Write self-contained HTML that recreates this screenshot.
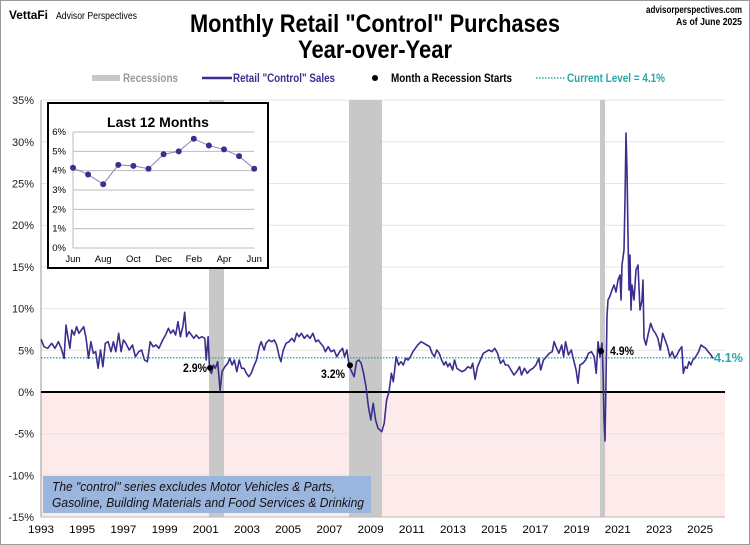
<!DOCTYPE html>
<html><head><meta charset="utf-8"><style>
body{margin:0;background:#fff}
svg{display:block;font-family:"Liberation Sans",sans-serif}
</style></head><body>
<svg id="s" width="750" height="545" viewBox="0 0 750 545" xmlns="http://www.w3.org/2000/svg">
<rect x="0.5" y="0.5" width="749" height="544" fill="#fff" stroke="#999"/>
<text x="9" y="19" font-size="12" font-weight="bold" textLength="39" lengthAdjust="spacingAndGlyphs">VettaFi</text>
<text x="56" y="19" font-size="10" textLength="81" lengthAdjust="spacingAndGlyphs">Advisor Perspectives</text>
<text x="742" y="13" font-size="10" font-weight="bold" text-anchor="end" textLength="96" lengthAdjust="spacingAndGlyphs">advisorperspectives.com</text>
<text x="742" y="25" font-size="10" font-weight="bold" text-anchor="end" textLength="66" lengthAdjust="spacingAndGlyphs">As of June 2025</text>
<text x="190" y="32" font-size="25" font-weight="bold" textLength="370" lengthAdjust="spacingAndGlyphs">Monthly Retail "Control" Purchases</text>
<text x="298" y="58" font-size="25" font-weight="bold" textLength="154" lengthAdjust="spacingAndGlyphs">Year-over-Year</text>
<rect x="92" y="75" width="28" height="6" fill="#c8c8c8"/>
<text x="123" y="82" font-size="12" fill="#999" font-weight="bold" textLength="55" lengthAdjust="spacingAndGlyphs">Recessions</text>
<line x1="202" y1="78" x2="232" y2="78" stroke="#3b2e8e" stroke-width="2.5"/>
<text x="233" y="82" font-size="12" fill="#3b2e8e" font-weight="bold" textLength="102" lengthAdjust="spacingAndGlyphs">Retail "Control" Sales</text>
<circle cx="375" cy="78" r="3" fill="#000"/>
<text x="391" y="82" font-size="12" font-weight="bold" textLength="121" lengthAdjust="spacingAndGlyphs">Month a Recession Starts</text>
<line x1="536" y1="78" x2="566" y2="78" stroke="#2aa7a7" stroke-width="1.5" stroke-dasharray="1.5,1.5"/>
<text x="567" y="82" font-size="12" fill="#2aa7a7" font-weight="bold" textLength="98" lengthAdjust="spacingAndGlyphs">Current Level = 4.1%</text>
<g id="main"></g>
</svg>
<script>
const NS="http://www.w3.org/2000/svg",g=document.getElementById("main");
function el(t,a,txt){const e=document.createElementNS(NS,t);for(const k in a)e.setAttribute(k,a[k]);if(txt!=null)e.textContent=txt;g.appendChild(e);return e;}
const L=41,R=725,T=100,B=517;const Y=v=>392-v*8.34;
el("rect",{x:L,y:392,width:R-L,height:B-392,fill:"#fdeaea"});
for(let v=-10;v<=35;v+=5){if(v!==0)el("line",{x1:L,x2:R,y1:Y(v),y2:Y(v),stroke:"#e4e4e4"});}
for(let v=-15;v<=35;v+=5)el("text",{x:34,y:Y(v)+4,"font-size":11,"text-anchor":"end",fill:"#222"},v+"%");
[[209,15],[349,33],[600,5]].forEach(r=>el("rect",{x:r[0],y:T,width:r[1],height:B-T,fill:"#c8c8c8"}));
el("line",{x1:L,x2:L,y1:T,y2:B,stroke:"#999"});
el("line",{x1:L,x2:R,y1:B,y2:B,stroke:"#bbb"});
for(let yr=1993;yr<=2025;yr+=2){const x=41+(yr-1993)*20.6;el("text",{x:x,y:533,"font-size":11,"text-anchor":"middle",textLength:26,lengthAdjust:"spacingAndGlyphs"},yr);}
el("line",{x1:L,x2:R,y1:392,y2:392,stroke:"#000","stroke-width":2});
el("line",{x1:L,x2:715,y1:Y(4.1),y2:Y(4.1),stroke:"#2aa7a7","stroke-width":1.3,"stroke-dasharray":"1.5,1.5"});
el("rect",{x:43,y:476,width:328,height:37,fill:"#9bb6de"});
el("text",{x:52,y:491,"font-size":12.5,"font-style":"italic",fill:"#111",textLength:283,lengthAdjust:"spacingAndGlyphs"},'The "control" series excludes Motor Vehicles & Parts,');
el("text",{x:52,y:507,"font-size":12.5,"font-style":"italic",fill:"#111",textLength:312,lengthAdjust:"spacingAndGlyphs"},'Gasoline, Building Materials and Food Services & Drinking');
const z=[[86,178],[92,200],[100,205],[108,190],[115,205],[122,185],[128,205],[134,235],[138,135],[142,170],[146,205],[150,150],[155,165],[160,140],[165,160],[170,150],[175,140],[180,175],[185,235],[190,185],[195,220],[200,215],[205,265],[210,210],[215,260],[220,190],[226,185],[232,215],[237,185],[242,215],[248,160],[253,215],[258,180],[263,190],[270,210],[277,195],[283,230],[290,215],[296,210],[302,240],[308,245],[314,185],[320,200],[326,195],[332,205],[340,180],[346,165],[352,145],[357,160],[362,150],[367,165],[372,125],[377,170],[382,140],[386,97],[390,170],[395,155],[400,165],[405,175],[410,165],[416,175],[422,170],[428,175],[431,240],[435,170],[438,270],[442,280],[446,255],[450,265],[455,245],[460,333],[464,275],[470,260],[476,250],[480,235],[485,255],[490,240],[495,275],[500,240],[505,265],[510,265],[515,280],[520,290],[525,280],[530,260],[536,240],[542,200],[546,185],[552,210],[556,190],[562,180],[568,185],[573,180],[578,195],[583,225],[587,245],[592,210],[598,190],[604,185],[610,175],[615,185],[620,160],[625,170],[630,160],[636,175],[642,165],[648,175],[654,160],[660,185],[665,180],[670,190],[676,200],[680,215],[686,200],[692,215],[698,210],[704,230],[710,215],[716,205],[720,230],[725,210],[730,260],[735,275],[740,290],[745,245],[750,240],[755,250],[760,280],[765,320],[770,380],[775,420],[780,370],[785,420],[790,445],[798,455],[803,430],[808,360],[813,335],[818,280],[822,305],[828,230],[833,255],[838,245],[843,255],[848,235],[853,240],[858,230],[863,215],[868,205],[873,195],[880,185],[886,190],[892,195],[898,200],[903,220],[908,230],[913,210],[918,220],[923,240],[928,255],[932,245],[936,260],[940,250],[946,270],[950,240],[955,265],[960,270],[966,275],[972,270],[978,260],[984,265],[988,250],[993,298],[998,260],[1004,240],[1010,220],[1016,215],[1022,210],[1028,215],[1034,205],[1040,220],[1046,250],[1052,240],[1056,255],[1062,255],[1068,270],[1074,285],[1080,275],[1086,260],[1090,285],[1096,265],[1102,280],[1108,270],[1114,265],[1120,255],[1126,235],[1130,270],[1136,240],[1142,230],[1148,220],[1154,215],[1158,185],[1162,200],[1168,220],[1174,195],[1178,230],[1182,185],[1188,225],[1194,210],[1198,235],[1204,270],[1208,310],[1212,255],[1218,250],[1224,240],[1230,220],[1236,215],[1242,230],[1246,280],[1250,185]];
let pts=z.map(p=>[p[0]/2.09,280+p[1]/3]);
pts=pts.concat([[600,357],[602,343],[603,370],[604,420],[605,441],[606,380],[607,316],[608,300],[610,296],[612,290],[614,285],[616,292],[618,280],[620,275],[621,300],[622,265],[624,250],[625,200],[626,133],[627,170],[628,235],[629,290],[630,255],[631,310],[632,285],[634,300],[636,270],[638,265],[640,310],[642,300],[643,280],[644,338],[646,345],[648,335]]);
const z2=[[1360,130],[1365,150],[1370,160],[1375,175],[1380,210],[1385,160],[1390,180],[1395,200],[1400,230],[1405,215],[1410,235],[1415,225],[1420,210],[1425,200],[1428,280],[1432,260],[1436,265],[1440,245],[1444,255],[1448,240],[1452,235],[1456,225],[1460,215],[1465,195],[1470,200],[1475,205],[1480,215],[1486,225],[1490,235]];
pts=pts.concat(z2.map(p=>[p[0]/2.09,280+p[1]/3]));
el("polyline",{points:pts.map(p=>p[0].toFixed(1)+","+p[1].toFixed(1)).join(" "),fill:"none",stroke:"#3b2e8e","stroke-width":1.6,"stroke-linejoin":"round"});
el("circle",{cx:210,cy:Y(2.9),r:3,fill:"#000"});el("circle",{cx:350,cy:Y(3.2),r:3,fill:"#000"});el("circle",{cx:601,cy:Y(4.9),r:3,fill:"#000"});
el("text",{x:183,y:372,"font-size":12,"font-weight":"bold",textLength:24,lengthAdjust:"spacingAndGlyphs"},"2.9%");
el("text",{x:321,y:378,"font-size":12,"font-weight":"bold",textLength:24,lengthAdjust:"spacingAndGlyphs"},"3.2%");
el("text",{x:610,y:355,"font-size":12,"font-weight":"bold",textLength:24,lengthAdjust:"spacingAndGlyphs"},"4.9%");
el("text",{x:714,y:362,"font-size":13,"font-weight":"bold",fill:"#2aa7a7",textLength:29,lengthAdjust:"spacingAndGlyphs"},"4.1%");
// inset
el("rect",{x:48,y:103,width:220,height:165,fill:"#fff",stroke:"#000","stroke-width":2});
el("text",{x:158,y:127,"font-size":14,"font-weight":"bold","text-anchor":"middle"},"Last 12 Months");
const iy=v=>248-v*19.33;
for(let v=0;v<=6;v++){el("line",{x1:73,x2:254,y1:iy(v),y2:iy(v),stroke:"#bbb"});el("text",{x:66,y:iy(v)+3,"font-size":9.5,"text-anchor":"end"},v+"%");}
el("line",{x1:73,x2:73,y1:iy(6),y2:248,stroke:"#bbb"});
const iv=[4.15,3.8,3.3,4.3,4.25,4.1,4.85,5.0,5.65,5.3,5.1,4.75,4.1];
const ip=iv.map((v,i)=>[73+i*15.1,iy(v)]);
el("polyline",{points:ip.map(p=>p.join(",")).join(" "),fill:"none",stroke:"#8c80c4","stroke-width":1});
ip.forEach(p=>el("circle",{cx:p[0],cy:p[1],r:3,fill:"#3b2e8e"}));
["Jun","Aug","Oct","Dec","Feb","Apr","Jun"].forEach((m,i)=>el("text",{x:73+i*30.2,y:262,"font-size":9.5,"text-anchor":"middle"},m));
</script>
</body></html>
